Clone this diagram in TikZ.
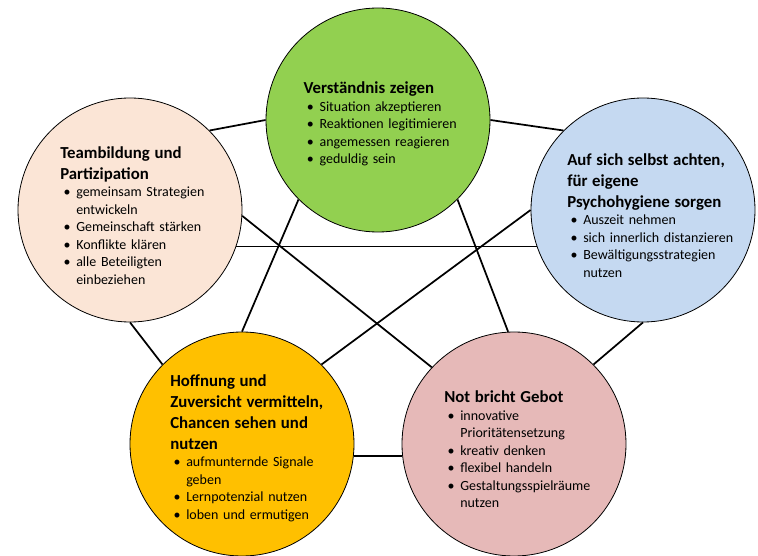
\documentclass[tikz,border=0pt]{standalone}
\usepackage{fontspec}
\setmainfont{Carlito}

\definecolor{gruen}{HTML}{92D050}
\definecolor{pfirsich}{HTML}{FBE5D6}
\definecolor{hellblau}{HTML}{C5D9F1}
\definecolor{goldgelb}{HTML}{FFC000}
\definecolor{altrosa}{HTML}{E6B9B8}

\newcommand{\titel}[1]{{\fontsize{12.6}{15.75}\selectfont\bfseries #1\par}}
\newcommand{\bul}[1]{\hspace*{2.5pt}\makebox[9.5pt][l]{\textbullet}#1}
\newcommand{\weiter}[1]{\hspace*{12pt}#1}

\begin{document}
\begin{tikzpicture}[x=0.75pt,y=-0.75pt,
  bubble/.style={circle,draw=black,line width=0.6pt,minimum size=\durchm pt,inner sep=0pt},
  inhalt/.style={anchor=west,align=left,text width=150pt,inner sep=0pt,
    font=\fontsize{10.5}{13.1}\selectfont},
  band/.style={line width=1.3pt}]
\pgfmathsetmacro{\durchm}{168}
\useasboundingbox (0,0) rectangle (758,556);

% die fuenf Kreise
\node[bubble,fill=gruen] (verst) at (378,120) {};
\node[bubble,fill=pfirsich] (team) at (130,210) {};
\node[bubble,fill=hellblau] (selbst) at (643,210) {};
\node[bubble,fill=goldgelb] (hoff) at (242,444) {};
\node[bubble,fill=altrosa] (not) at (514,444) {};

% Verbindungen
\draw[band] (verst.180) -- (team.45);
\draw[band] (verst.0) -- (selbst.135);
\draw[band] (team.270) -- (hoff.135);
\draw[band] (selbst.270) -- (not.45);
\draw[band] (hoff.-6) -- (not.186);
\draw[band] (team.-19) -- (selbst.199);
\draw[band] (team.-3) -- (not.137);
\draw[band] (verst.225) -- (hoff.90);
\draw[band] (verst.-45) -- (not.93);
\draw[band] (selbst.180) -- (hoff.45);

% Texte
\node[inhalt] (verst-t) at ([xshift=-56pt,yshift=-3pt]verst.center) {%
  \titel{Verständnis zeigen}
  \bul{Situation akzeptieren}\\
  \bul{Reaktionen legitimieren}\\
  \bul{angemessen reagieren}\\
  \bul{geduldig sein}};
\node[inhalt] (team-t) at ([xshift=-52.5pt,yshift=-4pt]team.center) {%
  \titel{Teambildung und\\ Partizipation}
  \bul{gemeinsam Strategien}\\
  \weiter{entwickeln}\\
  \bul{Gemeinschaft stärken}\\
  \bul{Konflikte klären}\\
  \bul{alle Beteiligten}\\
  \weiter{einbeziehen}};
\node[inhalt] (selbst-t) at ([xshift=-57pt,yshift=-4pt]selbst.center) {%
  \titel{Auf sich selbst achten,\\ für eigene\\ Psychohygiene sorgen}
  \bul{Auszeit nehmen}\\
  \bul{sich innerlich distanzieren}\\
  \bul{Bewältigungsstrategien}\\
  \weiter{nutzen}};
\node[inhalt] (hoff-t) at ([xshift=-54pt,yshift=-3pt]hoff.center) {%
  \titel{Hoffnung und\\ Zuversicht vermitteln,\\ Chancen sehen und\\ nutzen}
  \bul{aufmunternde Signale}\\
  \weiter{geben}\\
  \bul{Lernpotenzial nutzen}\\
  \bul{loben und ermutigen}};
\node[inhalt] (not-t) at ([xshift=-52.5pt,yshift=-4pt]not.center) {%
  \titel{Not bricht Gebot}
  \bul{innovative}\\
  \weiter{Prioritätensetzung}\\
  \bul{kreativ denken}\\
  \bul{flexibel handeln}\\
  \bul{Gestaltungsspielräume}\\
  \weiter{nutzen}};
\end{tikzpicture}
\end{document}
